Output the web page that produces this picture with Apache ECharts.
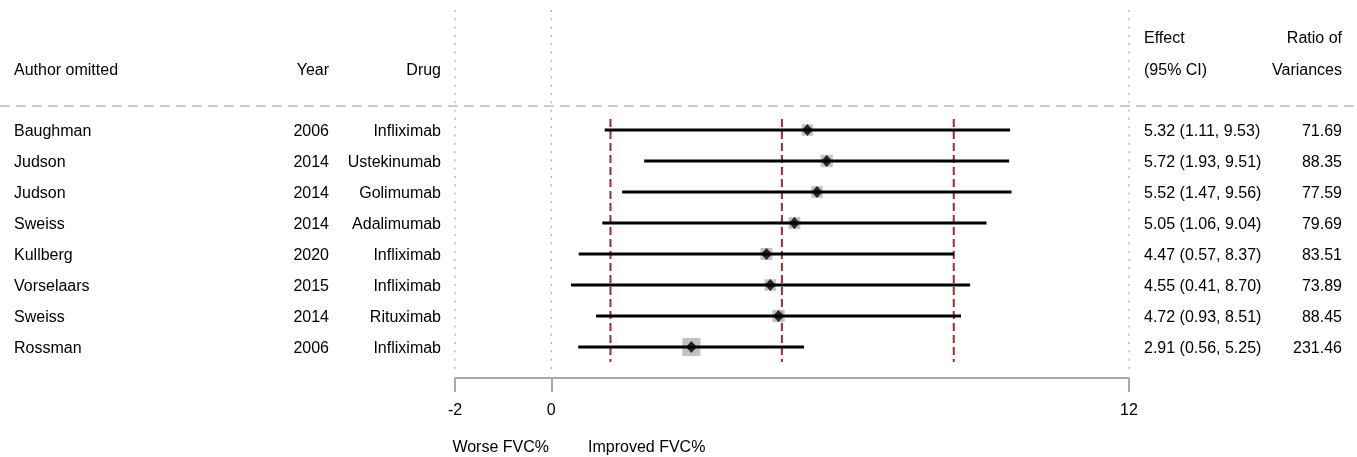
<!DOCTYPE html>
<html>
<head>
<meta charset="utf-8">
<script src="https://cdn.jsdelivr.net/npm/echarts@6/dist/echarts.min.js"></script>
<style>
html,body{margin:0;padding:0;background:#fff;}
#chart{width:1357px;height:457px;}
</style>
</head>
<body>
<div id="chart"></div>
<script>
const authors = ['Baughman','Judson','Judson','Sweiss','Kullberg','Vorselaars','Sweiss','Rossman'];
const years = ['2006','2014','2014','2014','2020','2015','2014','2006'];
const drugs = ['Infliximab','Ustekinumab','Golimumab','Adalimumab','Infliximab','Infliximab','Rituximab','Infliximab'];
const effects = [5.32,5.72,5.52,5.05,4.47,4.55,4.72,2.91];
const lowers = [1.11,1.93,1.47,1.06,0.57,0.41,0.93,0.56];
const uppers = [9.53,9.51,9.56,9.04,8.37,8.70,8.51,5.25];
const ratios = [71.69,88.35,77.59,79.69,83.51,73.89,88.45,231.46];
const overallEffect = [4.79];
const overallCI = [1.23, 8.36];
const axisTicks = [-2, 0, 12];
const refLines = [-2, 0, 12];

const FONT = 'Liberation Sans, Arial, sans-serif';
const rows = authors.map((a, i) => i);
const fmt = v => v.toFixed(2);
const effectText = effects.map((e, i) => fmt(e) + ' (' + fmt(lowers[i]) + ', ' + fmt(uppers[i]) + ')');
const ratioText = ratios.map(r => fmt(r));

const chart = echarts.init(document.getElementById('chart'), null, {renderer: 'canvas'});

const DY = 2;
const txt = (x, y, s, align) => ({
  type: 'text', x: x, y: y + DY,
  style: {text: s, fill: '#000', font: '16px ' + FONT, textAlign: align, textVerticalAlign: 'middle'}
});

chart.setOption({
  animation: false,
  grid: {left: 455, right: 228, top: 114.5, bottom: 94.5, containLabel: false},
  xAxis: {
    type: 'value', min: -2, max: 12, position: 'bottom', offset: 15.5,
    axisLine: {show: true, lineStyle: {color: '#a8a8a8', width: 2}},
    axisTick: {show: true, customValues: axisTicks, length: 14, inside: false, lineStyle: {color: '#a8a8a8', width: 2}},
    axisLabel: {show: true, customValues: axisTicks, margin: 25, color: '#000', fontSize: 16, fontFamily: FONT},
    splitLine: {show: false}
  },
  yAxis: {
    type: 'category', inverse: true, data: rows,
    axisLine: {show: false}, axisTick: {show: false}, axisLabel: {show: false}, splitLine: {show: false}
  },
  graphic: [
    {type: 'line', z: 1, shape: {x1: 0, y1: 106, x2: 1357, y2: 106},
     style: {stroke: '#cccccc', lineWidth: 2, lineDash: [10, 6]}},
    txt(14, 69, 'Author omitted', 'left'),
    txt(329, 69, 'Year', 'right'),
    txt(441, 69, 'Drug', 'right'),
    txt(1144, 37, 'Effect', 'left'),
    txt(1144, 69, '(95% CI)', 'left'),
    txt(1342, 37, 'Ratio of', 'right'),
    txt(1342, 69, 'Variances', 'right'),
    txt(549, 446, 'Worse FVC%', 'right'),
    txt(588, 446, 'Improved FVC%', 'left')
  ],
  series: [
    {
      type: 'custom', z: 1, silent: true,
      data: refLines.map(v => [v]),
      renderItem: function (params, api) {
        const x = api.coord([api.value(0), 0])[0];
        return {type: 'line', shape: {x1: x, y1: 10, x2: x, y2: 370},
          style: {stroke: '#999999', lineWidth: 1, lineDash: [2, 6.3]}};
      }
    },
    {
      type: 'custom', z: 2, silent: true,
      data: overallEffect.concat(overallCI).map(v => [v]),
      renderItem: function (params, api) {
        const x = api.coord([api.value(0), 0])[0];
        const y1 = api.coord([api.value(0), 0])[1] - 11;
        const y2 = api.coord([api.value(0), rows.length - 1])[1] + 15;
        return {type: 'line', shape: {x1: x, y1: y1, x2: x, y2: y2},
          style: {stroke: '#9b2d30', lineWidth: 2, lineDash: [8, 4]}};
      }
    },
    {
      type: 'scatter', z: 3, silent: true,
      symbol: 'rect',
      data: effects.map((e, i) => [e, i, ratios[i]]),
      symbolSize: function (v) { return Math.sqrt(44 + 1.21 * v[2]); },
      itemStyle: {color: '#b3b3b3'}
    },
    {
      type: 'custom', z: 4, silent: true,
      data: rows.map(i => [lowers[i], uppers[i], i]),
      renderItem: function (params, api) {
        const p1 = api.coord([api.value(0), api.value(2)]);
        const p2 = api.coord([api.value(1), api.value(2)]);
        return {type: 'line', shape: {x1: p1[0], y1: p1[1], x2: p2[0], y2: p2[1]},
          style: {stroke: '#000', lineWidth: 3}};
      }
    },
    {
      type: 'scatter', z: 5, silent: true,
      symbol: 'diamond', symbolSize: [11, 12],
      data: effects.map((e, i) => [e, i]),
      itemStyle: {color: '#000'}
    },
    {
      type: 'custom', z: 6, silent: true,
      data: rows.map(i => [0, i]),
      renderItem: function (params, api) {
        const i = api.value(1);
        const y = api.coord([0, i])[1];
        return {type: 'group', children: [
          txt(14, y, authors[i], 'left'),
          txt(329, y, years[i], 'right'),
          txt(441, y, drugs[i], 'right'),
          txt(1144, y, effectText[i], 'left'),
          txt(1342, y, ratioText[i], 'right')
        ]};
      }
    }
  ]
});
</script>
</body>
</html>
